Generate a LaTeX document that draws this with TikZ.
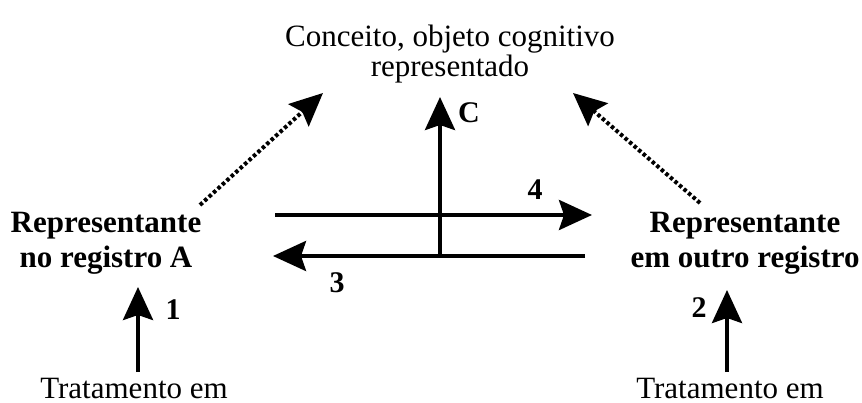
\documentclass[tikz,border=0pt]{standalone}
\usepackage{fontspec}
\setmainfont{Liberation Serif}
\usetikzlibrary{positioning, arrows.meta}

\begin{document}
\begin{tikzpicture}[x=1pt, y=-1pt,
  arr/.style={line width=4pt, -{Stealth[length=33pt, width=30pt, inset=5pt]}},
  dotarr/.style={arr, dash pattern=on 3.5pt off 2.5pt},
  rep/.style={font=\bfseries\fontsize{31}{35}\selectfont, align=center, inner sep=0pt},
  plain/.style={font=\fontsize{31}{30}\selectfont, align=center, inner sep=0pt},
  lbl/.style={font=\bfseries\fontsize{30}{32}\selectfont, inner sep=0pt}]
\useasboundingbox (0,0) rectangle (862,403);

% texts
\node[plain] (conceito) at (450,54) {Conceito, objeto cognitivo\\representado};
\node[rep] (repA) at (106,243) {Representante\\no registro A};
\node[rep] (repB) at (745,243) {Representante\\em outro registro};
\node[plain, anchor=north] (tratA) at (134,378) {Tratamento em};
\node[plain, anchor=north] (tratB) at (730,378) {Tratamento em};

% arrow ends
\coordinate (a4s) at (275,215);
\coordinate (a4e) at (592,215);
\coordinate (a3s) at (585,256);
\coordinate (a3e) at (273,256);
\coordinate (cs) at (440,256);
\coordinate (ce) at (440,97);
\coordinate (a1s) at (138,372);
\coordinate (a1e) at (138,287);
\coordinate (a2s) at (727,372);
\coordinate (a2e) at (727,290);
\coordinate (dAs) at (200,205);
\coordinate (dAe) at (323,93);
\coordinate (dBs) at (700,203);
\coordinate (dBe) at (573,93);

% arrows
\draw[arr] (a4s) -- (a4e);
\draw[arr] (a3s) -- (a3e);
\draw[arr] (cs) -- (ce);
\draw[arr] (a1s) -- (a1e);
\draw[arr] (a2s) -- (a2e);
\draw[dotarr] (dAs) -- (dAe);
\draw[dotarr] (dBs) -- (dBe);

% labels
\node[lbl] (l4) at (535,190) {4};
\node[lbl] (l3) at (337,283) {3};
\node[lbl] (lc) at (469,113) {C};
\node[lbl] (l1) at (173,310) {1};
\node[lbl] (l2) at (699,308) {2};
\end{tikzpicture}
\end{document}
